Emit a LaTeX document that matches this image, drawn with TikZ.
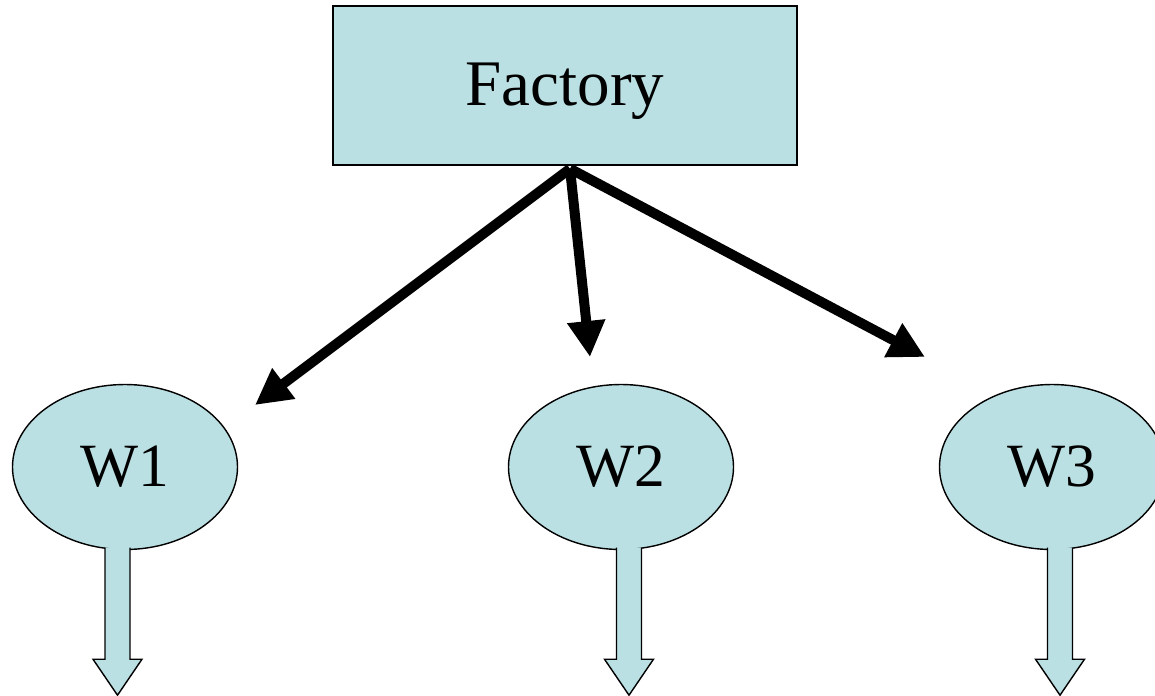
\documentclass[tikz,border=0pt]{standalone}
\usepackage{fontspec}
\newfontfamily\boxfont{Liberation Serif}
\usepackage{tikz}
\usetikzlibrary{arrows.meta,positioning,shapes.geometric}
\definecolor{whblue}{RGB}{187,224,227}
\tikzset{
  plantbox/.style={draw=black, fill=whblue, line width=0.8pt,
    minimum width=9.28cm, minimum height=3.18cm, inner sep=0pt,
    text height=1.1cm, text depth=0.29cm,
    font=\boxfont\fontsize{37}{42}\selectfont},
  whnode/.style={draw=black, fill=whblue, ellipse, line width=0.8pt,
    minimum width=4.5cm, minimum height=3.3cm, inner sep=0pt,
    font=\boxfont\fontsize{35}{40}\selectfont},
  shiparrow/.style={-{Triangle[length=0.72cm, width=0.72cm]}, line width=0.2cm},
  outarrow/.style={draw=black, fill=whblue, line width=0.8pt, line join=miter}
}

\begin{document}
\begin{tikzpicture}
  \useasboundingbox (0,0) rectangle (23.1cm,13.9cm);
  \node[plantbox] (fac) at (11.30cm,12.19cm) {Factory};
  \node[whnode] (w1) at (2.50cm,4.56cm) {W1};
  \node[whnode] (w2) at (12.42cm,4.56cm) {W2};
  \node[whnode] (w3) at (21.04cm,4.56cm) {W3};
  % arrow heads stop short of the warehouses
  \coordinate (fs) at ([xshift=0.1cm,yshift=-0.06cm]fac.south);
  \coordinate (t1) at (5.10cm,5.80cm);
  \coordinate (t2) at (11.80cm,6.76cm);
  \coordinate (t3) at (18.50cm,6.76cm);
  \draw[shiparrow] (fs) -- (t1);
  \draw[shiparrow] (fs) -- (t2);
  \draw[shiparrow] (fs) -- (t3);
  % block arrows out of each warehouse
  \foreach \w/\dx in {w1/-0.15, w2/0.16, w3/0.16} {
    \draw[outarrow] ([xshift=\dx cm]\w.south) ++(-0.25,0.05) -- ++(0,-2.23)
      -- ++(-0.24,0) -- ++(0.49,-0.72) -- ++(0.49,0.72) -- ++(-0.24,0)
      -- ++(0,2.23);
  }
\end{tikzpicture}
\end{document}
